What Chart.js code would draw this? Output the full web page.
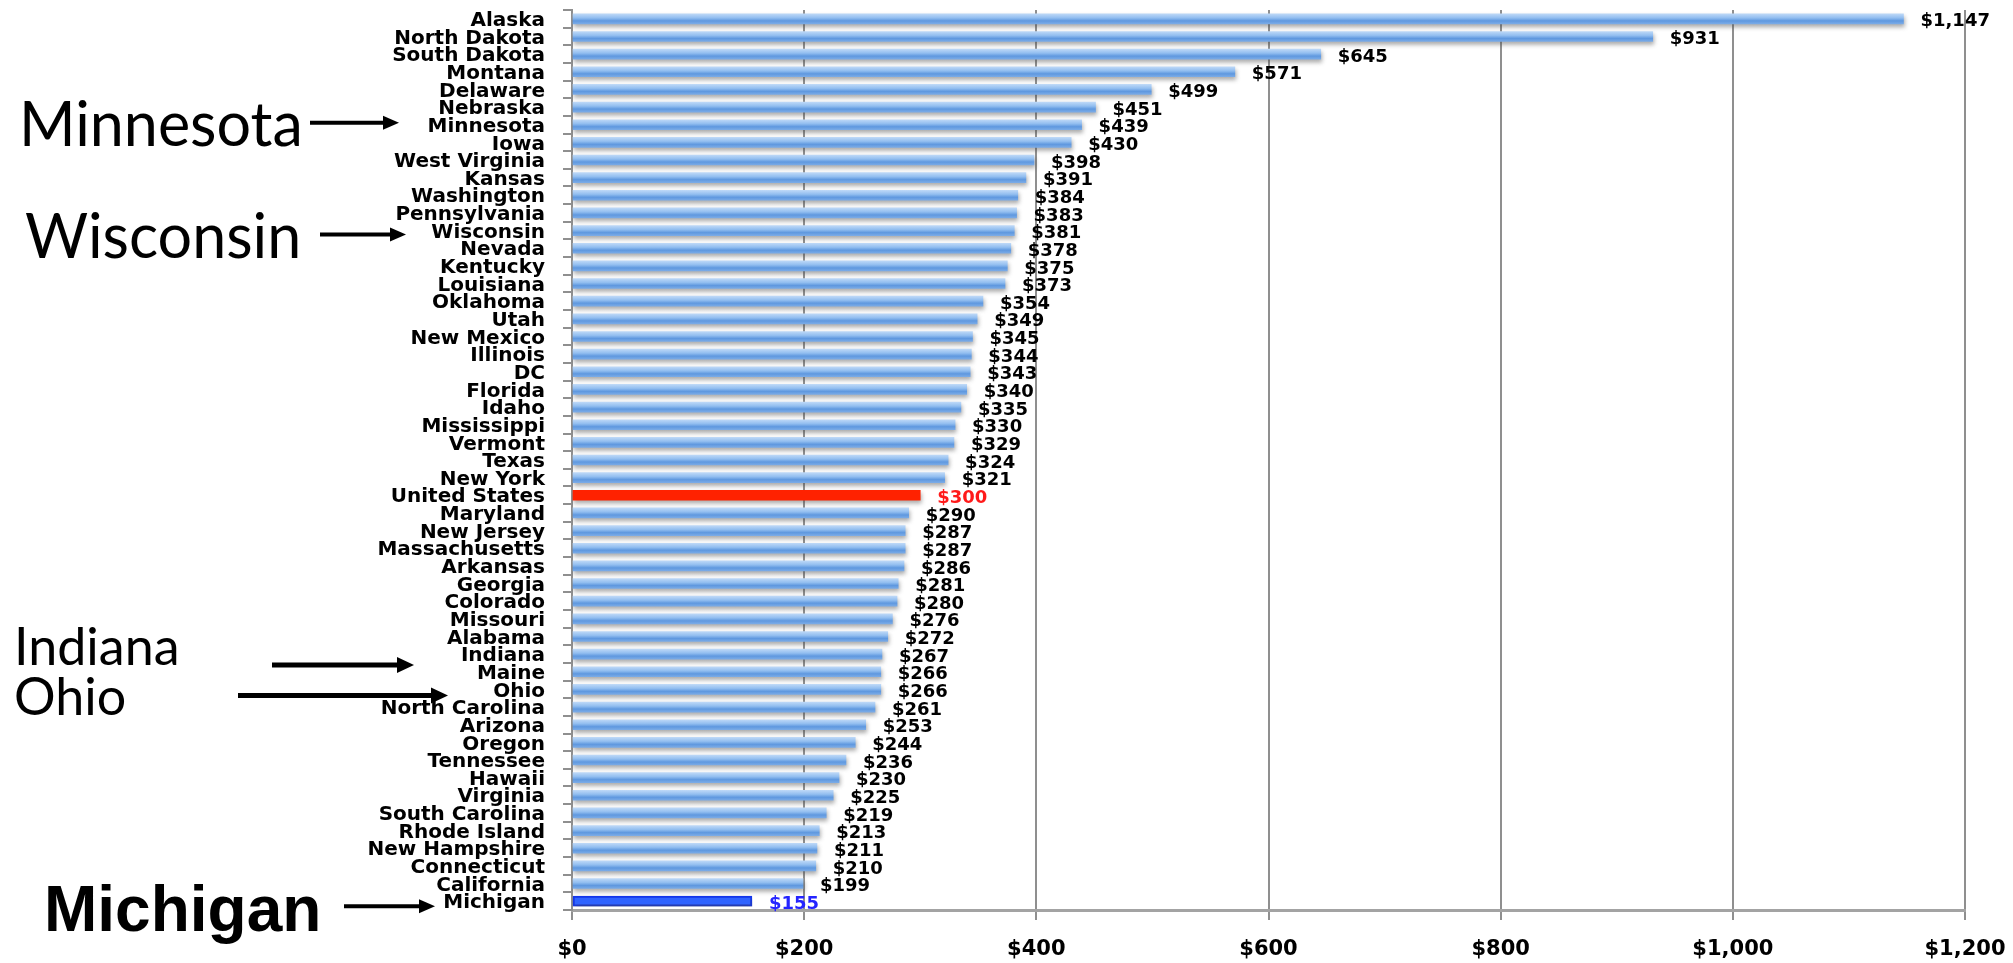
<!DOCTYPE html>
<html>
<head>
<meta charset="utf-8">
<title>Per-capita spending by state</title>
<script src="https://cdn.jsdelivr.net/npm/chart.js@4.4.1/dist/chart.umd.min.js"></script>
<style>
  html, body { margin: 0; padding: 0; background: #ffffff; }
  canvas { display: block; }
</style>
</head>
<body>
<canvas id="chart" width="2013" height="963"></canvas>
<script>
// States (plus DC and the national figure), ranked from highest to lowest
const states = [
  'Alaska', 'North Dakota', 'South Dakota', 'Montana', 'Delaware', 'Nebraska',
  'Minnesota', 'Iowa', 'West Virginia', 'Kansas', 'Washington', 'Pennsylvania',
  'Wisconsin', 'Nevada', 'Kentucky', 'Louisiana', 'Oklahoma', 'Utah',
  'New Mexico', 'Illinois', 'DC', 'Florida', 'Idaho', 'Mississippi',
  'Vermont', 'Texas', 'New York', 'United States', 'Maryland', 'New Jersey',
  'Massachusetts', 'Arkansas', 'Georgia', 'Colorado', 'Missouri', 'Alabama',
  'Indiana', 'Maine', 'Ohio', 'North Carolina', 'Arizona', 'Oregon',
  'Tennessee', 'Hawaii', 'Virginia', 'South Carolina', 'Rhode Island',
  'New Hampshire', 'Connecticut', 'California', 'Michigan'
];

// Dollars per person
const perCapita = [
  1147, 931, 645, 571, 499, 451,
  439, 430, 398, 391, 384, 383,
  381, 378, 375, 373, 354, 349,
  345, 344, 343, 340, 335, 330,
  329, 324, 321, 300, 290, 287,
  287, 286, 281, 280, 276, 272,
  267, 266, 266, 261, 253, 244,
  236, 230, 225, 219, 213,
  211, 210, 199, 155
];

// Horizontal axis ticks
const xTickValues = [0, 200, 400, 600, 800, 1000, 1200];

// Highlighted rows
const nationalRow = 'United States';
const homeRow = 'Michigan';

// Callouts pointing at particular states
const callouts = ['Minnesota', 'Wisconsin', 'Indiana', 'Ohio', 'Michigan'];

const money = v => '$' + Number(v).toLocaleString('en-US');

function barFill(ctx) {
  const name = states[ctx.dataIndex];
  if (name === nationalRow) return '#ff2200';
  if (name === homeRow) return '#2f63ff';
  const yScale = ctx.chart.scales && ctx.chart.scales.y;
  if (!yScale || ctx.dataIndex === undefined) return '#7eaee8';
  const yc = yScale.getPixelForValue(ctx.dataIndex);
  if (!Number.isFinite(yc)) return '#7eaee8';
  const g = ctx.chart.ctx.createLinearGradient(0, yc - 5, 0, yc + 5);
  g.addColorStop(0, '#bdd8f7');
  g.addColorStop(0.4, '#92bef0');
  g.addColorStop(0.7, '#5f98df');
  g.addColorStop(1, '#7aabe7');
  return g;
}

// Soft drop shadow under the bars
const barShadow = {
  id: 'barShadow',
  beforeDatasetDraw(chart) {
    const c = chart.ctx;
    c.save();
    c.shadowColor = 'rgba(70,70,70,0.45)';
    c.shadowBlur = 4;
    c.shadowOffsetX = 1;
    c.shadowOffsetY = 3;
  },
  afterDatasetDraw(chart) {
    chart.ctx.restore();
  }
};

// Dollar value printed just past the end of each bar
const valueLabels = {
  id: 'valueLabels',
  afterDatasetsDraw(chart) {
    const c = chart.ctx;
    const meta = chart.getDatasetMeta(0);
    c.save();
    c.font = 'bold 18px "DejaVu Sans"';
    c.textAlign = 'left';
    c.textBaseline = 'middle';
    meta.data.forEach((bar, i) => {
      const name = states[i];
      c.fillStyle = name === nationalRow ? '#ff1a1a' : (name === homeRow ? '#2424ff' : '#000000');
      c.fillText(money(perCapita[i]), bar.x + 17, bar.y + 3);
    });
    c.restore();
  }
};

function arrow(c, x0, x1, y, w, headLen, headHalf) {
  c.beginPath();
  c.lineWidth = w;
  c.strokeStyle = '#000';
  c.moveTo(x0, y);
  c.lineTo(x1 - headLen + 1, y);
  c.stroke();
  c.beginPath();
  c.fillStyle = '#000';
  c.moveTo(x1, y);
  c.lineTo(x1 - headLen, y - headHalf);
  c.lineTo(x1 - headLen, y + headHalf);
  c.closePath();
  c.fill();
}

// Large state names at the left with arrows to their rows
const calloutLayer = {
  id: 'calloutLayer',
  afterDraw(chart) {
    const c = chart.ctx;
    const y = chart.scales.y;
    const rowY = name => y.getPixelForValue(states.indexOf(name));
    c.save();
    c.fillStyle = '#000';
    c.textAlign = 'left';
    c.textBaseline = 'alphabetic';

    // Minnesota
    c.font = '61px Lato';
    c.fillText(callouts[0], 19, rowY(callouts[0]) + 21);
    arrow(c, 310, 399, rowY(callouts[0]) - 2, 4, 16, 7);

    // Wisconsin
    c.fillText(callouts[1], 25, rowY(callouts[1]) + 27);
    arrow(c, 320, 406, rowY(callouts[1]) + 4, 4, 16, 7);

    // Indiana and Ohio
    c.font = '52px Lato';
    c.fillText(callouts[2], 14, rowY(callouts[2]) + 11);
    arrow(c, 272, 414, rowY(callouts[2]) + 11, 5, 17, 8);
    c.fillText(callouts[3], 14, rowY(callouts[3]) + 26);
    arrow(c, 238, 448, rowY(callouts[3]) + 6, 5, 17, 8);

    // Michigan
    c.font = 'bold 64px "Liberation Sans"';
    c.fillText(callouts[4], 44, rowY(callouts[4]) + 30);
    arrow(c, 344, 435, rowY(callouts[4]) + 5, 4, 16, 7);
    c.restore();
  }
};

const gridGray = '#8f8f8f';

function draw() {
  new Chart(document.getElementById('chart'), {
    type: 'bar',
    data: {
      labels: states,
      datasets: [{
        data: perCapita,
        backgroundColor: barFill,
        borderColor: ctx => states[ctx.dataIndex] === homeRow ? '#1236ee' : 'rgba(0,0,0,0)',
        borderWidth: ctx => states[ctx.dataIndex] === homeRow ? 2 : 0,
        borderSkipped: false,
        barThickness: 10
      }]
    },
    options: {
      indexAxis: 'y',
      responsive: false,
      animation: false,
      events: [],
      layout: { padding: { top: 10, right: 48, bottom: 0, left: 0 } },
      plugins: {
        legend: { display: false },
        tooltip: { enabled: false },
        title: { display: false }
      },
      scales: {
        x: {
          min: 0,
          max: 1200,
          afterBuildTicks: s => { s.ticks = xTickValues.map(v => ({ value: v })); },
          afterFit: s => { s.height = 53; s.paddingLeft = 0; s.paddingRight = 0; },
          grid: { color: gridGray, lineWidth: 2, tickLength: 10, drawTicks: true },
          border: { display: true, color: '#a3a3a3', width: 3 },
          ticks: {
            callback: v => money(v),
            color: '#000',
            padding: 17,
            maxRotation: 0,
            font: { family: 'DejaVu Sans', weight: 'bold', size: 21 }
          }
        },
        y: {
          afterFit: s => { s.width = 572; s.paddingTop = 0; s.paddingBottom = 0; },
          grid: { offset: true, drawOnChartArea: false, tickLength: 9, color: gridGray, lineWidth: 2 },
          border: { display: true, color: gridGray, width: 2 },
          ticks: {
            autoSkip: false,
            color: '#000',
            padding: 18,
            labelOffset: 2,
            font: { family: 'DejaVu Sans', weight: 'bold', size: 20 }
          }
        }
      }
    },
    plugins: [barShadow, valueLabels, calloutLayer]
  });
}

const fontsReady = document.fonts && document.fonts.load
  ? Promise.all([
      document.fonts.load('61px Lato'),
      document.fonts.load('bold 20px "DejaVu Sans"'),
      document.fonts.load('bold 64px "Liberation Sans"')
    ]).catch(() => null)
  : Promise.resolve();
fontsReady.then(draw);
</script>
</body>
</html>
